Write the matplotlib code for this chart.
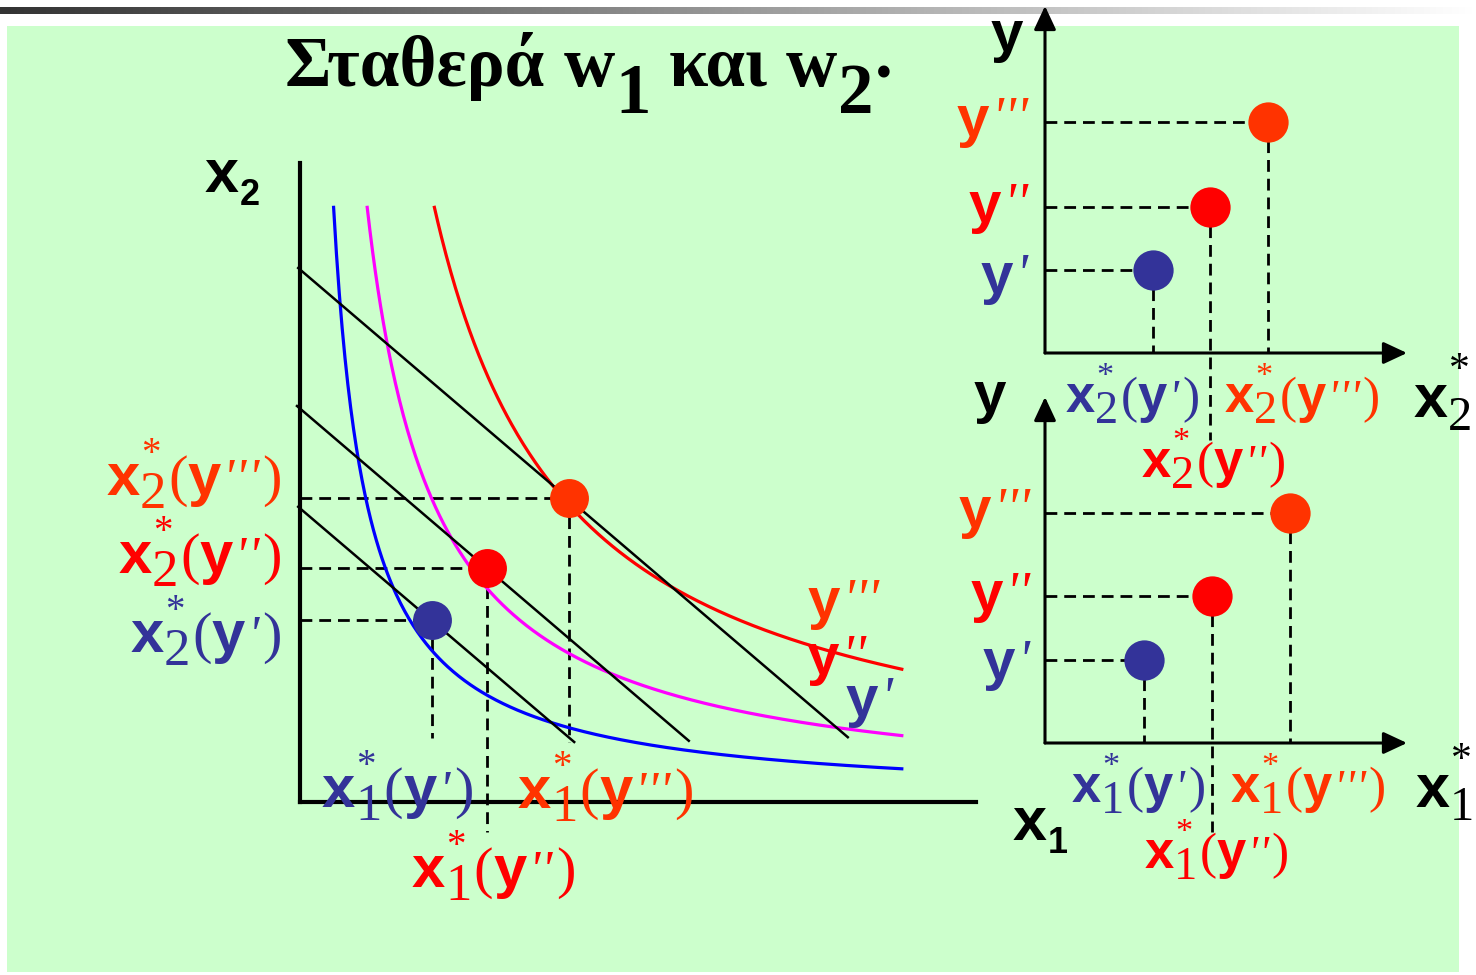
import numpy as np
import matplotlib
matplotlib.use("Agg")
import matplotlib.pyplot as plt
from matplotlib.transforms import IdentityTransform
from matplotlib.patches import Rectangle
from matplotlib.colors import LinearSegmentedColormap

plt.rcParams["lines.scale_dashes"] = False

W, H, DPI = 1476, 975, 100

# ---------------- data ----------------
level_names = ["y'", "y''", "y'''"]
# main panel: isoquants x1*x2 = k  (units: 1 unit = 60 px)
iso_k = [5.55, 11.1, 22.2]
iso_x1_start = [0.56, 1.12, 2.24]
iso_x1_end = [10.03, 10.03, 10.03]
# isocost lines (end points)
cost_x1_start = [-0.03, -0.05, -0.03]
cost_x2_start = [4.92, 6.60, 8.90]
cost_x1_end = [4.57, 6.48, 9.13]
cost_x2_end = [1.00, 1.02, 1.08]
# cost-minimising bundles
x1_star = [2.20, 3.12, 4.48]
x2_star = [3.03, 3.90, 5.07]
x1_drop_end = [1.07, -0.50, 1.00]

# top-right panel: y against x2*
tr_x2 = [1.80, 2.75, 3.72]
tr_y = [1.38, 2.43, 3.85]
tr_drop_end = [0.0, -1.45, 0.0]
# bottom-right panel: y against x1*
br_x1 = [1.65, 2.78, 4.08]
br_y = [1.38, 2.45, 3.83]
br_drop_end = [0.0, -1.48, 0.0]

dot_colors = ["#333399", "#FF0000", "#FF3300"]
curve_colors = ["#0000FF", "#FF00FF", "#FF0000"]
GREEN = "#CCFFCC"

# ---------------- figure ----------------
fig = plt.figure(figsize=(W / DPI, H / DPI), dpi=DPI)
fig.patch.set_facecolor("white")
renderer = fig.canvas.get_renderer()
ID = IdentityTransform()

bg = fig.add_axes([0, 0, 1, 1], zorder=-5)
grad = np.linspace(0, 1, 512)[None, :]
bg.imshow(grad, cmap=LinearSegmentedColormap.from_list("g", ["#333333", "#ffffff"]),
          extent=(0, W, 14, 7), aspect="auto")
bg.add_patch(Rectangle((7, 26), 1452, 946, facecolor=GREEN, edgecolor="none"))
bg.set_xlim(0, W)
bg.set_ylim(H, 0)
bg.axis("off")


def pix_axes(x0, y0, x1, y1):
    ax = fig.add_axes([x0 / W, (H - y1) / H, (x1 - x0) / W, (y1 - y0) / H])
    ax.set_xlim(0, (x1 - x0) / 60)
    ax.set_ylim(0, (y1 - y0) / 60)
    ax.patch.set_alpha(0)
    ax.set_xticks([])
    ax.set_yticks([])
    return ax


DASH = (0, (8.5, 5))
DLW = 2.0
MS = 28

# ---- main panel ----
ax = pix_axes(300, 163, 976, 802)
for s in ["top", "right"]:
    ax.spines[s].set_visible(False)
for s in ["left", "bottom"]:
    ax.spines[s].set_linewidth(3)
for k, xs, xe, c in zip(iso_k, iso_x1_start, iso_x1_end, curve_colors):
    xx = np.linspace(xs, xe, 400)
    ax.plot(xx, k / xx, color=c, lw=2.3, zorder=3)
for xs, ys, xe, ye in zip(cost_x1_start, cost_x2_start, cost_x1_end, cost_x2_end):
    ax.plot([xs, xe], [ys, ye], color="k", lw=1.8, clip_on=False, zorder=3)
for i in range(3):
    ax.plot([0, x1_star[i]], [x2_star[i]] * 2, color="k", lw=DLW, ls=DASH, zorder=2)
    ax.plot([x1_star[i]] * 2, [x2_star[i], x1_drop_end[i]], color="k", lw=DLW, ls=DASH,
            clip_on=False, zorder=2)
    ax.plot(x1_star[i], x2_star[i], "o", ms=MS, color=dot_colors[i], mec="none", zorder=5)


def right_panel(y0, y1, xs, ys, drops):
    a = pix_axes(1045, y0, 1407, y1)
    a.axis("off")
    xm, ym = a.get_xlim()[1], a.get_ylim()[1]
    ap = dict(arrowstyle="-|>,head_length=0.6,head_width=0.28", lw=2.2, color="k",
              mutation_scale=24, shrinkA=0, shrinkB=0)
    a.annotate("", xy=(xm, 0), xytext=(0, 0), arrowprops=ap, annotation_clip=False)
    a.annotate("", xy=(0, ym), xytext=(0, 0), arrowprops=ap, annotation_clip=False)
    for i in range(3):
        a.plot([0, xs[i]], [ys[i]] * 2, color="k", lw=DLW, ls=DASH, zorder=2)
        a.plot([xs[i]] * 2, [ys[i], drops[i]], color="k", lw=DLW, ls=DASH,
               clip_on=False, zorder=2)
        a.plot(xs[i], ys[i], "o", ms=MS + 1, color=dot_colors[i], mec="none", zorder=5)
    return a


right_panel(6, 353, tr_x2, tr_y, tr_drop_end)
right_panel(397, 743, br_x1, br_y, br_drop_end)

# ---------------- rich text ----------------
FONTS = {
    "b": dict(family="Liberation Sans", weight="bold"),
    "r": dict(family="Liberation Serif"),
    "i": dict(family="Liberation Serif", style="italic"),
    "B": dict(family="Liberation Serif", weight="bold"),
}


def rich(x, y, pieces, color="k", ha="left", scale=1.0):
    arts = []
    cx = 0.0
    for s, f, size, dx, dy, adv in pieces:
        t = fig.text(0, 0, s, transform=ID, va="baseline", ha="left", color=color,
                     fontsize=size * scale, **FONTS[f])
        w = t.get_window_extent(renderer).width
        arts.append((t, cx + dx * scale, dy * scale))
        if adv:
            cx += dx * scale + w
    x0 = x - cx if ha == "right" else (x - cx / 2 if ha == "center" else x)
    for t, px, dy in arts:
        t.set_position((x0 + px, H - y + dy))


def primes(n, size=38, gap=2):
    return [("'", "i", size, gap if j else 2, 0, True) for j in range(n)]


def opt_label(sub, nprime):
    return ([("x", "b", 43, 0, 0, True),
             ("*", "r", 28, 1, 31, False),
             (sub, "r", 38, 0, -13, True),
             ("(", "r", 42, 2, 0, True),
             ("y", "b", 43, 0, 0, True)]
            + primes(nprime, 38, 1)
            + [(")", "r", 42, 4, 0, True)])


def y_label(nprime):
    return [("y", "b", 42, 0, 0, True)] + primes(nprime, 40, 0)


def axis_label(sub):
    return [("x", "b", 44, 0, 0, True), (sub, "b", 26, 1, -13, True)]


def star_axis_label(sub):
    return [("x", "b", 44, 0, 0, True),
            ("*", "r", 30, 1, 36, False),
            (sub, "r", 35, 0, -13, True)]


# title
TS = 51
rich(285, 86, [("Σταθερά", "B", TS, 0, 0, True),
               ("w", "B", TS, 18, 0, True),
               ("1", "B", TS, 1, -27, True),
               ("και", "B", TS, 18, 0, True),
               ("w", "B", TS, 18, 0, True),
               ("2", "B", TS, 1, -27, True),
               (".", "B", TS, 1, 8, True)])

# main axis labels
rich(205, 192, axis_label("2"))
rich(1013, 840, axis_label("1"))

# main left labels (x2*)
for i, base in enumerate([652, 573, 495]):
    rich(282, base, opt_label("2", i + 1), color=dot_colors[i], ha="right")
# main bottom labels (x1*)
for i, (lx, base) in enumerate([(322, 807), (412, 887), (518, 808)]):
    rich(lx, base, opt_label("1", i + 1), color=dot_colors[i])
# curve labels
for i, (lx, base) in enumerate([(846, 716), (807, 674), (808, 618)]):
    rich(lx, base, y_label(i + 1), color=dot_colors[i])

# top-right panel labels
rich(991, 51, [("y", "b", 42, 0, 0, True)])
for i, base in enumerate([293, 222, 136]):
    rich(1027, base, y_label(i + 1), color=dot_colors[i], ha="right")
for i, (lx, base) in enumerate([(1066, 412), (1142, 477), (1225, 412)]):
    rich(lx, base, opt_label("2", i + 1), color=dot_colors[i], scale=0.88)
rich(1414, 417, star_axis_label("2"))

# bottom-right panel labels
rich(974, 412, [("y", "b", 42, 0, 0, True)])
for i, base in enumerate([679, 611, 527]):
    rich(1029, base, y_label(i + 1), color=dot_colors[i], ha="right")
for i, (lx, base) in enumerate([(1072, 802), (1145, 868), (1231, 802)]):
    rich(lx, base, opt_label("1", i + 1), color=dot_colors[i], scale=0.88)
rich(1416, 807, star_axis_label("1"))

fig.savefig("out.png", dpi=DPI)
